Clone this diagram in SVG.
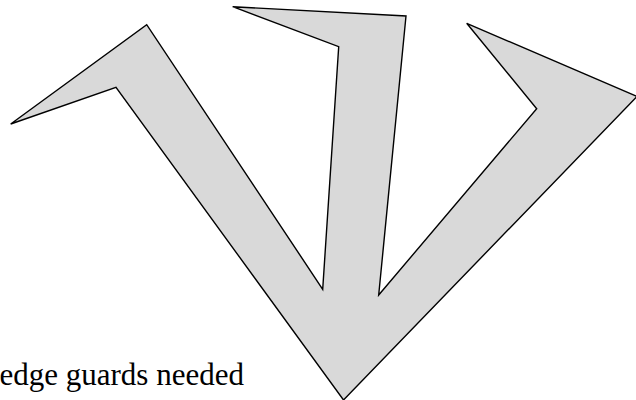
<svg xmlns="http://www.w3.org/2000/svg" width="636" height="400" viewBox="0 0 636 400">
<style>
.shape{fill:#d9d9d9;stroke:#000;stroke-width:1.4;stroke-linejoin:miter}
.label{font-family:"Liberation Serif","Times New Roman",serif;font-size:31px;fill:#000}
</style>
<rect width="636" height="400" fill="#fff"/>
<g id="polygon">
<polygon class="shape" points="10.7,124 146.7,24.7 322.7,289.3 338.7,46.7 232.7,6.7 406,16 378.7,295 536.7,108.7 466.7,23.3 637,96.5 343.5,400 116,87.3"/>
</g>
<g id="caption">
<text class="label" x="-0.5" y="385">edge guards needed</text>
</g>
</svg>
